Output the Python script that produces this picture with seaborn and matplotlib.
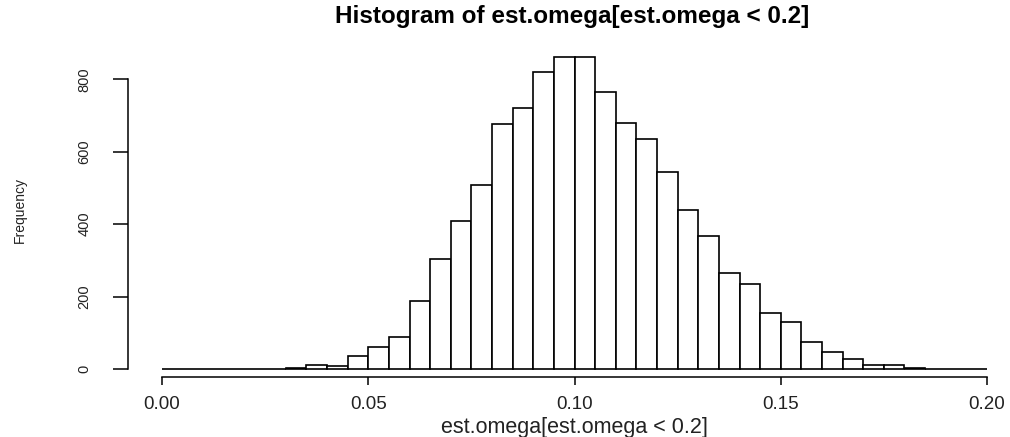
import numpy as np
import pandas as pd
import matplotlib
matplotlib.use("Agg")
import matplotlib.pyplot as plt
import seaborn as sns

# ---- data ----
bin_start = 0.0
bin_end = 0.2
bin_width = 0.005
counts = [0, 0, 0, 0, 0, 0, 2, 11, 9, 37,
          62, 88, 187, 304, 410, 508, 677, 721, 821, 861,
          861, 765, 680, 636, 545, 438, 368, 264, 235, 155,
          129, 75, 48, 28, 12, 10, 4, 0, 1, 1]
x_ticks = [0.0, 0.05, 0.10, 0.15, 0.20]
x_tick_labels = ["0.00", "0.05", "0.10", "0.15", "0.20"]
y_ticks = [0, 200, 400, 600, 800]
y_tick_labels = ["0", "200", "400", "600", "800"]
title = "Histogram of est.omega[est.omega < 0.2]"
x_label = "est.omega[est.omega < 0.2]"
y_label = "Frequency"

n = len(counts)
centers = bin_start + bin_width * (np.arange(n) + 0.5)
df = pd.DataFrame({"omega": centers, "count": counts})

sns.set_style("white")
plt.rcParams["font.family"] = ["Liberation Sans", "DejaVu Sans"]

W, H = 1010, 437
fig = plt.figure(figsize=(W / 100, H / 100), dpi=100)
fig.patch.set_facecolor("white")

ax_l, ax_r, ax_t, ax_b = 128, 1010, 40, 377
ax = fig.add_axes([ax_l / W, (H - ax_b) / H, (ax_r - ax_l) / W, (ax_b - ax_t) / H])
ax.set_facecolor("white")

sns.histplot(data=df, x="omega", weights="count", binwidth=bin_width,
             binrange=(bin_start, bin_end), stat="count",
             color="white", edgecolor="black", linewidth=1.2, alpha=1.0, ax=ax)

# data -> pixel mapping from the reference
px_per_x = (987 - 162) / 0.2
px_per_y = (369 - 79.3) / 800
ax.set_xlim(0 - (162 - ax_l) / px_per_x, 0.2 + (ax_r - 987) / px_per_x)
ax.set_ylim(-(ax_b - 369) / px_per_y, (369 - ax_t) / px_per_y)

for s in ["top", "right"]:
    ax.spines[s].set_visible(False)
for s in ["left", "bottom"]:
    ax.spines[s].set_color("black")
    ax.spines[s].set_linewidth(1.1)
ax.spines["left"].set_bounds(0, 800)
ax.spines["bottom"].set_bounds(0, 0.2)

ax.set_xticks(x_ticks)
ax.set_xticklabels(x_tick_labels, fontsize=13.5, color="#222222")
ax.set_yticks(y_ticks)
ax.set_yticklabels(y_tick_labels, fontsize=10.5, color="#222222")
for lab in ax.get_yticklabels():
    lab.set_rotation(90)
    lab.set_va("center")
    lab.set_ha("right")

ax.tick_params(axis="x", bottom=True, length=6, width=1.1, pad=8, color="black")
ax.tick_params(axis="y", left=True, length=10.5, width=1.1, pad=16, color="black")

ax.set_xlabel(x_label, fontsize=15.5, color="#222222")
ax.xaxis.set_label_coords((574 - ax_l) / (ax_r - ax_l), -(428 - ax_b) / (ax_b - ax_t))
ax.xaxis.label.set_va("center")
ax.set_ylabel(y_label, fontsize=10, color="#222222")
ax.yaxis.set_label_coords((20 - ax_l) / (ax_r - ax_l), (ax_b - 210) / (ax_b - ax_t))
ax.yaxis.label.set_va("center")
ax.yaxis.label.set_ha("center")

fig.text(572 / W, 1 - 17 / H, title, ha="center", va="center",
         fontsize=17.5, fontweight="bold", color="black")

fig.savefig("out.png", dpi=100, facecolor="white")
